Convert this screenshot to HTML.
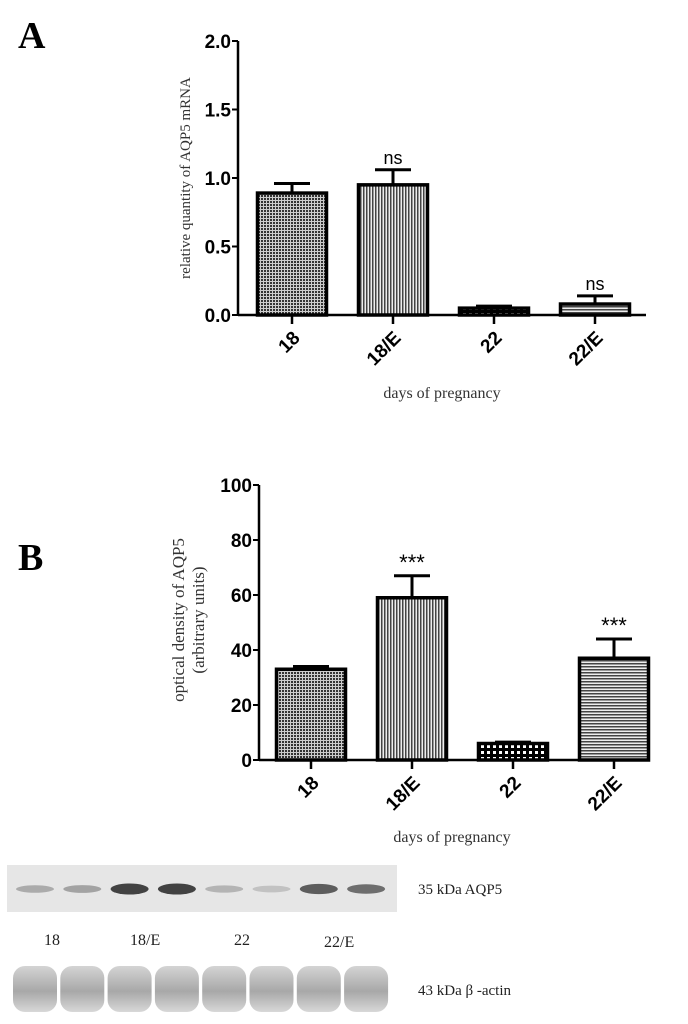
<!DOCTYPE html>
<html><head><meta charset="utf-8"><style>
html,body{margin:0;padding:0;background:#fff;width:688px;height:1024px;overflow:hidden}
svg{display:block}
</style></head><body>
<svg id="fig" width="688" height="1024" xmlns="http://www.w3.org/2000/svg">
<defs>
<pattern id="pDots" width="3" height="3" patternUnits="userSpaceOnUse"><rect width="3" height="3" fill="#ccc"/><rect width="2" height="2" fill="#333"/></pattern>
<pattern id="pV" width="3" height="3" patternUnits="userSpaceOnUse"><rect width="3" height="3" fill="#eee"/><rect width="1.5" height="3" fill="#444"/></pattern>
<pattern id="pH" width="3" height="3" patternUnits="userSpaceOnUse"><rect width="3" height="3" fill="#eee"/><rect width="3" height="1.5" fill="#444"/></pattern>
<pattern id="pCheck" width="6" height="6" patternUnits="userSpaceOnUse"><rect width="6" height="6" fill="#000"/><rect x="1" y="1" width="3" height="3" fill="#fff"/></pattern>
<linearGradient id="bandG" x1="0" y1="0" x2="0" y2="1"><stop offset="0" stop-color="#d4d4d4"/><stop offset="0.55" stop-color="#a8a8a8"/><stop offset="1" stop-color="#d8d8d8"/></linearGradient>
</defs>
<text x="18" y="48" font-family="Liberation Serif, serif" font-weight="bold" font-size="38">A</text>
<text x="18" y="570" font-family="Liberation Serif, serif" font-weight="bold" font-size="38">B</text>
<g id="chartA"></g>
<g id="chartB"></g>
<g id="blot"></g>
</svg>
<script>
const categories = ["18","18/E","22","22/E"];
const fills = ["url(#pDots)","url(#pV)","url(#pCheck)","url(#pH)"];
const aValues = [0.89, 0.95, 0.05, 0.08];
const aErrors = [0.96, 1.06, 0.065, 0.14];
const aSig = ["","ns","","ns"];
const aTicks = ["0.0","0.5","1.0","1.5","2.0"];
const bValues = [33, 59, 6, 37];
const bErrors = [34, 67, 6.5, 44];
const bSig = ["","***","","***"];
const bTicks = ["0","20","40","60","80","100"];
const blotAqp5 = [0.25, 0.3, 0.85, 0.85, 0.2, 0.12, 0.7, 0.6];

const NS="http://www.w3.org/2000/svg";
function mk(parent,tag,attrs,text){const e=document.createElementNS(NS,tag);for(const k in attrs)e.setAttribute(k,attrs[k]);if(text!==undefined)e.textContent=text;parent.appendChild(e);return e;}

function drawChart(g, cfg){
  const y = v => cfg.y0 - (v - 0)/cfg.max*(cfg.y0-cfg.yTop);
  const x = i => cfg.x0 + i*cfg.step;
  let ax=mk(g,'line',{x1:cfg.axisX,y1:cfg.yTop,x2:cfg.axisX,y2:cfg.y0,stroke:'#000','stroke-width':2.5});
  
  let xa=mk(g,'line',{x1:cfg.axisX,y1:cfg.y0,x2:cfg.xEnd,y2:cfg.y0,stroke:'#000','stroke-width':2.5});
  
  cfg.ticks.forEach(t=>{
    const v=parseFloat(t), yy=y(v);
    mk(g,'line',{x1:cfg.axisX-6,y1:yy,x2:cfg.axisX,y2:yy,stroke:'#000','stroke-width':2});
    const tl=mk(g,'text',{x:cfg.axisX-7,y:yy+7,'text-anchor':'end','font-family':'Liberation Sans, sans-serif','font-weight':'bold','font-size':19},t);
    
  });
  categories.forEach((c,i)=>{
    const cx=x(i), w=cfg.bw;
    const e=mk(g,'line',{x1:cx,y1:y(cfg.values[i]),x2:cx,y2:y(cfg.errors[i]),stroke:'#000','stroke-width':3});
    
    mk(g,'line',{x1:cx-18,y1:y(cfg.errors[i]),x2:cx+18,y2:y(cfg.errors[i]),stroke:'#000','stroke-width':3});
    const b=mk(g,'rect',{x:cx-w/2,y:y(cfg.values[i]),width:w,height:cfg.y0-y(cfg.values[i]),fill:fills[i],stroke:'#000','stroke-width':3.5});
    
    mk(g,'line',{x1:cx,y1:cfg.y0,x2:cx,y2:cfg.y0+9,stroke:'#000','stroke-width':2.5});
    const tl=mk(g,'text',{x:0,y:0,'text-anchor':'end','font-family':'Liberation Sans, sans-serif','font-weight':'bold','font-size':19,transform:`translate(${cx+9},${cfg.y0+24}) rotate(-45)`},c);
    
    if(cfg.sig[i]){
      const s=mk(g,'text',{x:cx,y:y(cfg.errors[i])-6,'text-anchor':'middle','font-family':'Liberation Sans, sans-serif','font-size':cfg.sigSize},cfg.sig[i]);
      
    }
  });
  const xt=mk(g,'text',{x:cfg.xTitleX,y:cfg.xTitleY,'text-anchor':'middle','font-family':'Liberation Serif, serif','font-size':16,fill:'#333'},'days of pregnancy');
  
  cfg.yTitle.forEach((line,k)=>{
    const yt=mk(g,'text',{x:0,y:0,'text-anchor':'middle','font-family':'Liberation Serif, serif','font-size':cfg.yTitleSize,fill:'#333',transform:`translate(${cfg.yTitleX+k*20},${cfg.yTitleY}) rotate(-90)`},line);
    
  });
}

drawChart(document.getElementById('chartA'),{axisX:238,y0:315,yTop:41,max:2,xEnd:646,x0:292,step:101,bw:69,
  values:aValues,errors:aErrors,sig:aSig,ticks:aTicks,sigSize:18,xTitleX:442,xTitleY:398,yTitle:["relative quantity of AQP5 mRNA"],yTitleX:190,yTitleY:178,yTitleSize:15});
drawChart(document.getElementById('chartB'),{axisX:259,y0:760,yTop:485,max:100,xEnd:650,x0:311,step:101,bw:69,
  values:bValues,errors:bErrors,sig:bSig,ticks:bTicks,sigSize:22,xTitleX:452,xTitleY:842,yTitle:["optical density of AQP5","(arbitrary units)"],yTitleX:184,yTitleY:620,yTitleSize:17});

// blot
const bl=document.getElementById('blot');
const panel=mk(bl,'rect',{x:7,y:865,width:390,height:47,fill:'#e6e6e6'});

const laneX=i=>14+i*47.3;
blotAqp5.forEach((v,i)=>{
  const c=Math.round(215-v*175);
  const band=mk(bl,'ellipse',{cx:laneX(i)+21,cy:889,rx:19,ry:3+v*3,fill:`rgb(${c},${c},${c})`});
  
  const ab=mk(bl,'rect',{x:laneX(i)-1,y:966,width:44,height:46,rx:12,fill:'url(#bandG)'});
  
});
[["18",44,945],["18/E",130,945],["22",234,945],["22/E",324,947]].forEach(l=>{
  const t=mk(bl,'text',{x:l[1],y:l[2],'font-family':'Liberation Serif, serif','font-size':16,fill:'#222'},l[0]);
  
});
const t1=mk(bl,'text',{x:418,y:894,'font-family':'Liberation Serif, serif','font-size':15,fill:'#222'},'35 kDa AQP5');

const t2=mk(bl,'text',{x:418,y:995,'font-family':'Liberation Serif, serif','font-size':15,fill:'#222'},'43 kDa β -actin');

</script>
</body></html>
